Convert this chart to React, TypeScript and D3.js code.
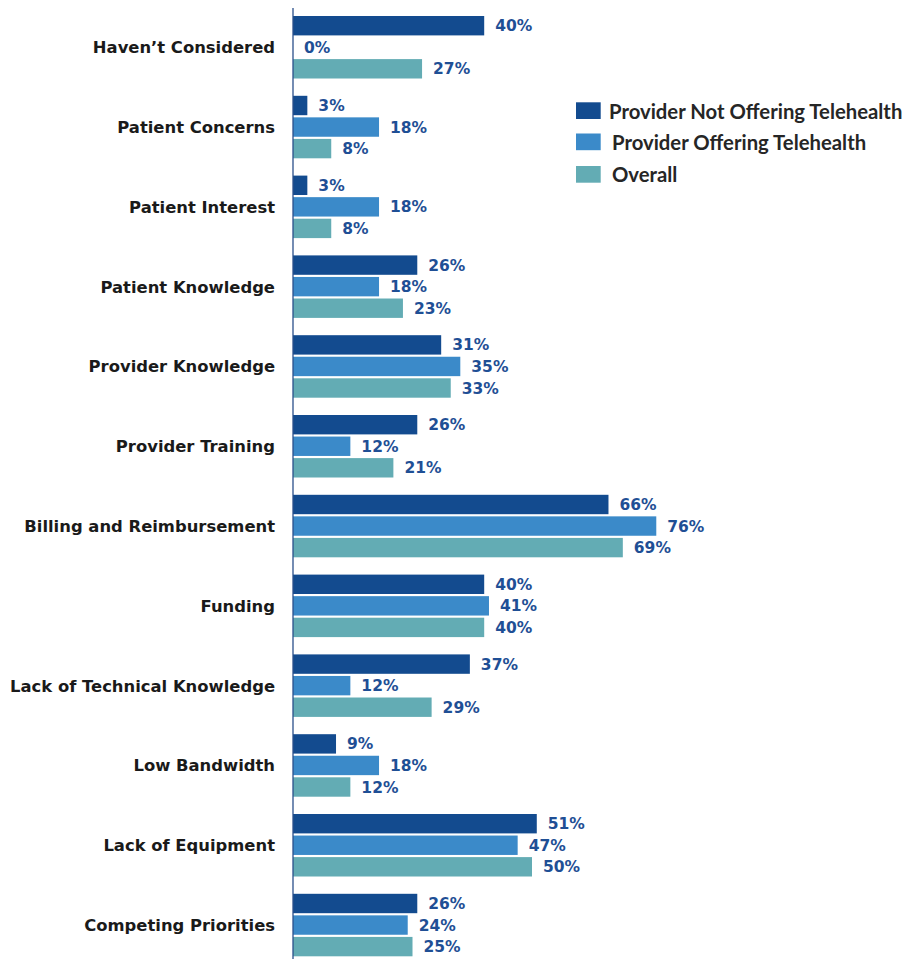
import React from "react";
import * as d3 from "d3";

const categories = [
  "Haven\u2019t Considered",
  "Patient Concerns",
  "Patient Interest",
  "Patient Knowledge",
  "Provider Knowledge",
  "Provider Training",
  "Billing and Reimbursement",
  "Funding",
  "Lack of Technical Knowledge",
  "Low Bandwidth",
  "Lack of Equipment",
  "Competing Priorities",
];

const seriesNames = [
  "Provider Not Offering Telehealth",
  "Provider Offering Telehealth",
  "Overall",
];

const notOffering = [40, 3, 3, 26, 31, 26, 66, 40, 37, 9, 51, 26];
const offering = [0, 18, 18, 18, 35, 12, 76, 41, 12, 18, 47, 24];
const overall = [27, 8, 8, 23, 33, 21, 69, 40, 29, 12, 50, 25];

const seriesValues = [notOffering, offering, overall];
const colors = ["#134b8f", "#3b8ac9", "#63acb4"];

const W = 909;
const H = 959;
const axisX = 293;
const top = 16;
const groupStep = 79.8;

export default function App() {
  const x = d3.scaleLinear().domain([0, 100]).range([axisX, axisX + 478]);
  const yGroup = d3
    .scaleBand<string>()
    .domain(categories)
    .range([top, top + groupStep * categories.length])
    .paddingInner(0)
    .paddingOuter(0);
  const yInner = d3
    .scaleBand<string>()
    .domain(seriesNames)
    .range([0, 62.5])
    .paddingInner(0.1)
    .paddingOuter(0);
  const bh = yInner.bandwidth();

  const legendY = [102.3, 133.5, 166];
  const legendTextX = [609, 612, 612];
  const legendBase = [118.5, 150, 182];

  return (
    <svg
      width={W}
      height={H}
      style={{ position: "absolute", left: 0, top: 0, background: "#fff" }}
    >
      {categories.map((c, i) => {
        const g = yGroup(c)!;
        return (
          <g key={c}>
            {seriesNames.map((s, j) => {
              const v = seriesValues[j][i];
              const yy = g + yInner(s)!;
              return (
                <g key={s}>
                  <rect
                    x={x(0)}
                    y={yy}
                    width={x(v) - x(0)}
                    height={bh}
                    fill={colors[j]}
                  />
                  <text
                    x={x(v) + 11}
                    y={yy + bh / 2}
                    dy="0.36em"
                    fontFamily="DejaVu Sans"
                    fontWeight="bold"
                    fontSize={15.5}
                    fill="#1f4f95"
                  >
                    {v}%
                  </text>
                </g>
              );
            })}
            <text
              x={275}
              y={g + yInner(seriesNames[1])! + bh / 2}
              dy="0.36em"
              textAnchor="end"
              fontFamily="DejaVu Sans"
              fontWeight="bold"
              fontSize={16.4}
              fill="#1a1a1a"
            >
              {c}
            </text>
          </g>
        );
      })}
      <line x1={axisX} x2={axisX} y1={8} y2={H} stroke="#2a4f8a" strokeWidth={1.3} />
      {seriesNames.map((s, j) => (
        <g key={s}>
          <rect x={576} y={legendY[j]} width={24.7} height={16.7} fill={colors[j]} />
          <text
            x={legendTextX[j]}
            y={legendBase[j]}
            fontFamily="Lato"
            fontWeight="bold"
            fontSize={20.3}
            fill="#262626"
          >
            {s}
          </text>
        </g>
      ))}
    </svg>
  );
}
